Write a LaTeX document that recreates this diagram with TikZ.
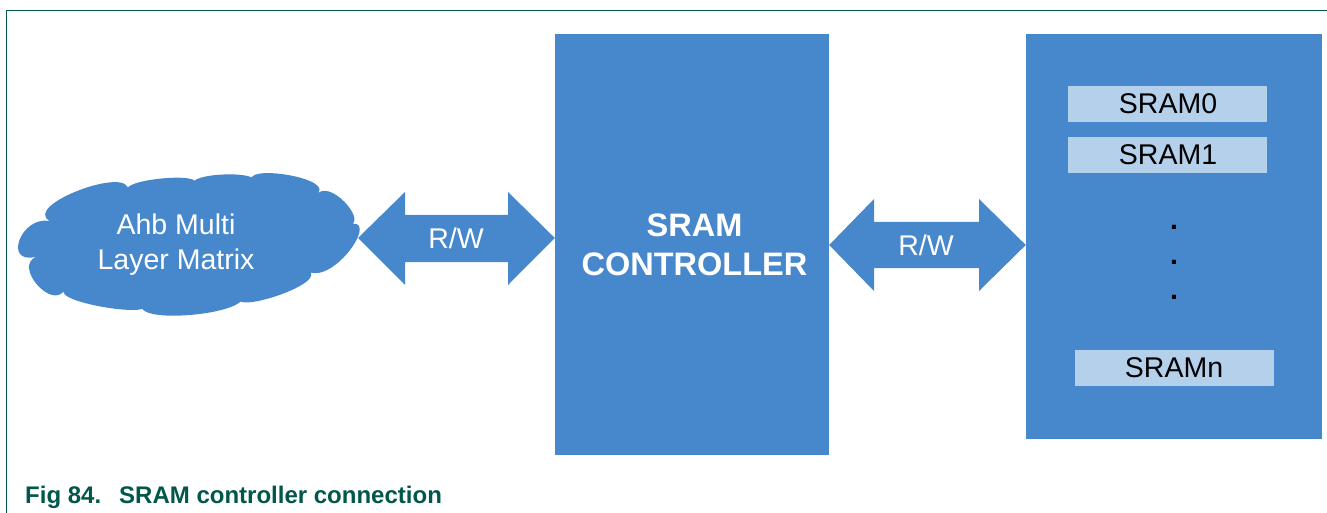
\documentclass[tikz,border=0pt]{standalone}
\usepackage{fontspec}
\setmainfont{Liberation Sans}
\definecolor{blk}{HTML}{4788CC}
\definecolor{lite}{HTML}{B5D0EB}
\definecolor{nxp}{HTML}{00574A}
\begin{document}
\begin{tikzpicture}[x=1bp,y=-1bp,
  blockfill/.style={fill=blk, draw=none, inner sep=0pt},
  membox/.style={fill=lite, draw=none, inner sep=0pt, minimum width=199bp, minimum height=36bp},
  wtxt/.style={text=white, font=\fontsize{28.5bp}{33bp}\selectfont, inner sep=0pt, anchor=base},
  ktxt/.style={text=black, font=\fontsize{28.5bp}{33bp}\selectfont, inner sep=0pt, anchor=base},
  dottxt/.style={text=black, font=\fontsize{28.5bp}{33bp}\selectfont\bfseries, inner sep=0pt, anchor=base},
  btxt/.style={text=white, font=\fontsize{32.5bp}{38bp}\selectfont\bfseries, inner sep=0pt, anchor=base},
  captxt/.style={text=nxp, font=\fontsize{24bp}{28bp}\selectfont\bfseries, inner sep=0pt, anchor=base west},
  frameline/.style={draw=nxp, line width=1.3bp}
]
\useasboundingbox (0,0) rectangle (1327,513);
% frame
\draw[frameline] (6.7,513) -- (6.7,10.3) -- (1327,10.3);
% cloud
\fill[blk] (128,191.3)
  .. controls (132.5,163.8) and (21.1,205.3) .. (49.8,221)
  .. controls (21,215.4) and (2.2,265.3) .. (36.4,256.7)
  .. controls (12.7,266.1) and (52.8,311.7) .. (65.1,289.3)
  .. controls (48.7,301.9) and (163.7,320.7) .. (143,302.2)
  .. controls (125.6,326.5) and (257,314.4) .. (241.1,294)
  .. controls (221.9,317.1) and (319.4,287.2) .. (310.8,272.7)
  .. controls (338.2,279.7) and (382,213) .. (346.4,225)
  .. controls (370.8,226.3) and (333.6,181) .. (318.4,192.7)
  .. controls (330.9,177.1) and (238.7,163.1) .. (252.6,182.7)
  .. controls (264.9,169.7) and (183.5,173) .. (194.4,185)
  .. controls (207.5,170.8) and (116.5,179.7) .. (128,191.3) -- cycle;
\node[wtxt] (ahb1) at (176,235) {Ahb Multi};
\node[wtxt] (ahb2) at (176,269.3) {Layer Matrix};
% controller
\node[blockfill, minimum width=274bp, minimum height=421bp] (ctrl) at (692,244.5) {};
\node[btxt] (ct1) at (694.5,237) {SRAM};
\node[btxt] (ct2) at (694.5,275) {CONTROLLER};
% memory group
\node[blockfill, minimum width=296bp, minimum height=405bp] (mem) at (1174,236.5) {};
\node[membox] (s0) at (1167.5,104) {};
\node[membox] (s1) at (1167.5,155.5) {};
\node[membox] (sn) at (1174.5,368) {};
\node[ktxt] (t0) at (1168,113.3) {SRAM0};
\node[ktxt] (t1) at (1168,165) {SRAM1};
\node[ktxt] (tn) at (1174,377.7) {SRAMn};
\node[dottxt] (d1) at (1174,230) {.};
\node[dottxt] (d2) at (1174,265) {.};
\node[dottxt] (d3) at (1174,299) {.};
% arrows
\fill[blk] (358,238) -- (405,192) -- (405,215) -- (508,215) -- (508,192) -- (ctrl.west |- 0,238) -- (508,285) -- (508,262) -- (405,262) -- (405,285) -- cycle;
\node[wtxt] (rw1) at (456,248.3) {R/W};
\fill[blk] (ctrl.east |- 0,245) -- (874,199) -- (874,222) -- (979,222) -- (979,199) -- (mem.west |- 0,245) -- (979,291) -- (979,268) -- (874,268) -- (874,291) -- cycle;
\node[wtxt] (rw2) at (926,256) {R/W};
% caption
\node[captxt] (cap) at (25,503) {Fig 84.\hspace{18bp}SRAM controller connection};
\end{tikzpicture}
\end{document}
